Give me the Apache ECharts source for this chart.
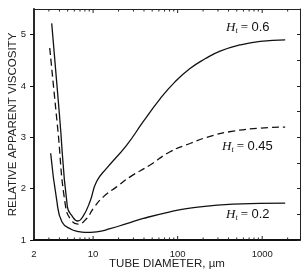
<!DOCTYPE html>
<html>
<head>
<meta charset="utf-8">
<script src="https://cdn.jsdelivr.net/npm/echarts@6/dist/echarts.min.js"></script>
<style>
  html, body { margin: 0; padding: 0; background: #fff; }
  #chart { width: 306px; height: 274px; }
</style>
</head>
<body>
<div id="chart"></div>
<script>
// tube diameter (um) and relative apparent viscosity
const diam06 = [3.24, 4.0, 4.96, 5.63, 6.6, 7.6, 9.2, 11.0, 14.5, 25, 39.3, 62, 93, 140, 211, 318, 548, 946, 1870];
const visc06 = [5.22, 3.44, 1.65, 1.47, 1.37, 1.46, 1.75, 2.14, 2.40, 2.85, 3.31, 3.75, 4.08, 4.34, 4.53, 4.68, 4.80, 4.87, 4.90];

const diam045 = [3.07, 3.8, 4.72, 5.6, 6.63, 8.4, 10.1, 13.2, 19.1, 27.4, 47.2, 81.3, 140, 242, 453, 946, 1870];
const visc045 = [4.74, 3.20, 1.66, 1.37, 1.31, 1.42, 1.62, 1.84, 2.04, 2.23, 2.46, 2.72, 2.88, 3.02, 3.12, 3.18, 3.20];

const diam02 = [3.15, 3.71, 4.29, 5.5, 6.5, 8.0, 11, 15.9, 25, 39.3, 81.3, 140, 453, 1870];
const visc02 = [2.69, 1.78, 1.35, 1.21, 1.17, 1.15, 1.16, 1.22, 1.32, 1.42, 1.55, 1.62, 1.70, 1.72];

const xLabels = [2, 10, 100, 1000];
const majorTicksX = [10, 100, 1000];
const minorTicksX = [3, 4, 5, 6, 7, 8, 9, 20, 30, 40, 50, 60, 70, 80, 90,
                     200, 300, 400, 500, 600, 700, 800, 900, 2000];

const X_MIN = 2, X_MAX = 2800, Y_MIN = 1, Y_MAX = 5.5;

const zip = (xs, ys) => xs.map((x, i) => [x, ys[i]]);

const tickData = majorTicksX.map(v => [v, 4]).concat(minorTicksX.map(v => [v, 2.5]));

function renderTick(params, api) {
    const v = api.value(0);
    const len = api.value(1);
    const b = api.coord([v, Y_MIN]);
    const t = api.coord([v, Y_MAX]);
    const st = { stroke: '#222', lineWidth: 1 };
    return {
        type: 'group',
        children: [
            { type: 'line', shape: { x1: b[0], y1: b[1], x2: b[0], y2: b[1] - len }, style: st },
            { type: 'line', shape: { x1: t[0], y1: t[1], x2: t[0], y2: t[1] + len }, style: st }
        ]
    };
}

const lineStyle = { color: '#111', width: 1.3 };

function hLabel(value, left, top) {
    return {
        type: 'text',
        left: left,
        top: top,
        style: {
            text: '{i|H}{s|t}{e| = }{n|' + value + '}',
            rich: {
                i: { fontFamily: 'Liberation Serif', fontStyle: 'italic', fontSize: 13, fill: '#111' },
                s: { fontFamily: 'Liberation Serif', fontStyle: 'italic', fontSize: 8, fill: '#111', padding: [7, 0, 0, 0] },
                e: { fontFamily: 'Liberation Serif', fontSize: 13, fill: '#111' },
                n: { fontFamily: 'Liberation Sans', fontSize: 13, fill: '#111' }
            }
        }
    };
}

const chart = echarts.init(document.getElementById('chart'));
chart.setOption({
    animation: false,
    grid: { left: 34, right: 6, top: 9, bottom: 34, containLabel: false, outerBoundsMode: 'none' },
    xAxis: [
        {
            type: 'log',
            min: X_MIN,
            max: X_MAX,
            name: 'TUBE DIAMETER, µm',
            nameLocation: 'middle',
            nameGap: 18,
            nameMoveOverlap: false,
            nameTextStyle: { fontFamily: 'Liberation Sans', fontSize: 11.5, color: '#222' },
            axisLine: { lineStyle: { color: '#111', width: 1.8 } },
            axisTick: { show: false },
            splitLine: { show: false },
            axisLabel: {
                fontFamily: 'Liberation Sans',
                fontSize: 9.5,
                color: '#222',
                margin: 9,
                formatter: v => xLabels.includes(Math.round(v)) ? String(Math.round(v)) : ''
            }
        },
        {
            type: 'log',
            position: 'top',
            min: X_MIN,
            max: X_MAX,
            axisLine: { lineStyle: { color: '#222', width: 1 } },
            axisTick: { show: false },
            axisLabel: { show: false },
            splitLine: { show: false }
        }
    ],
    yAxis: [
        {
            type: 'value',
            min: Y_MIN,
            max: Y_MAX,
            interval: 1,
            name: 'RELATIVE APPARENT VISCOSITY',
            nameLocation: 'middle',
            nameGap: 15,
            nameMoveOverlap: false,
            nameTextStyle: { fontFamily: 'Liberation Sans', fontSize: 11.5, color: '#222' },
            axisLine: { show: true, lineStyle: { color: '#111', width: 1.8 } },
            axisTick: { show: true, length: 4, lineStyle: { color: '#111' }, customValues: [1, 2, 3, 4, 5] },
            splitLine: { show: false },
            axisLabel: {
                fontFamily: 'Liberation Sans',
                fontSize: 9.5,
                color: '#222',
                margin: 8,
                formatter: v => Number.isInteger(v) ? String(v) : ''
            }
        },
        {
            type: 'value',
            position: 'right',
            min: Y_MIN,
            max: Y_MAX,
            interval: 0.5,
            axisLine: { show: true, lineStyle: { color: '#222', width: 1 } },
            axisTick: { show: true, inside: true, length: 3, lineStyle: { color: '#222' } },
            axisLabel: { show: false },
            splitLine: { show: false }
        }
    ],
    series: [
        {
            name: 'Ht=0.6',
            type: 'line',
            data: zip(diam06, visc06),
            smooth: 0.5,
            showSymbol: false,
            lineStyle: lineStyle
        },
        {
            name: 'Ht=0.45',
            type: 'line',
            data: zip(diam045, visc045),
            smooth: 0.5,
            showSymbol: false,
            lineStyle: { color: '#111', width: 1.3, type: [7, 4] }
        },
        {
            name: 'Ht=0.2',
            type: 'line',
            data: zip(diam02, visc02),
            smooth: 0.5,
            showSymbol: false,
            lineStyle: lineStyle
        },
        {
            type: 'custom',
            data: tickData,
            renderItem: renderTick,
            encode: { x: 0 },
            clip: false,
            silent: true
        }
    ],
    graphic: [
        hLabel('0.6', 226, 21),
        hLabel('0.45', 222, 140),
        hLabel('0.2', 226, 208)
    ]
});
</script>
</body>
</html>
